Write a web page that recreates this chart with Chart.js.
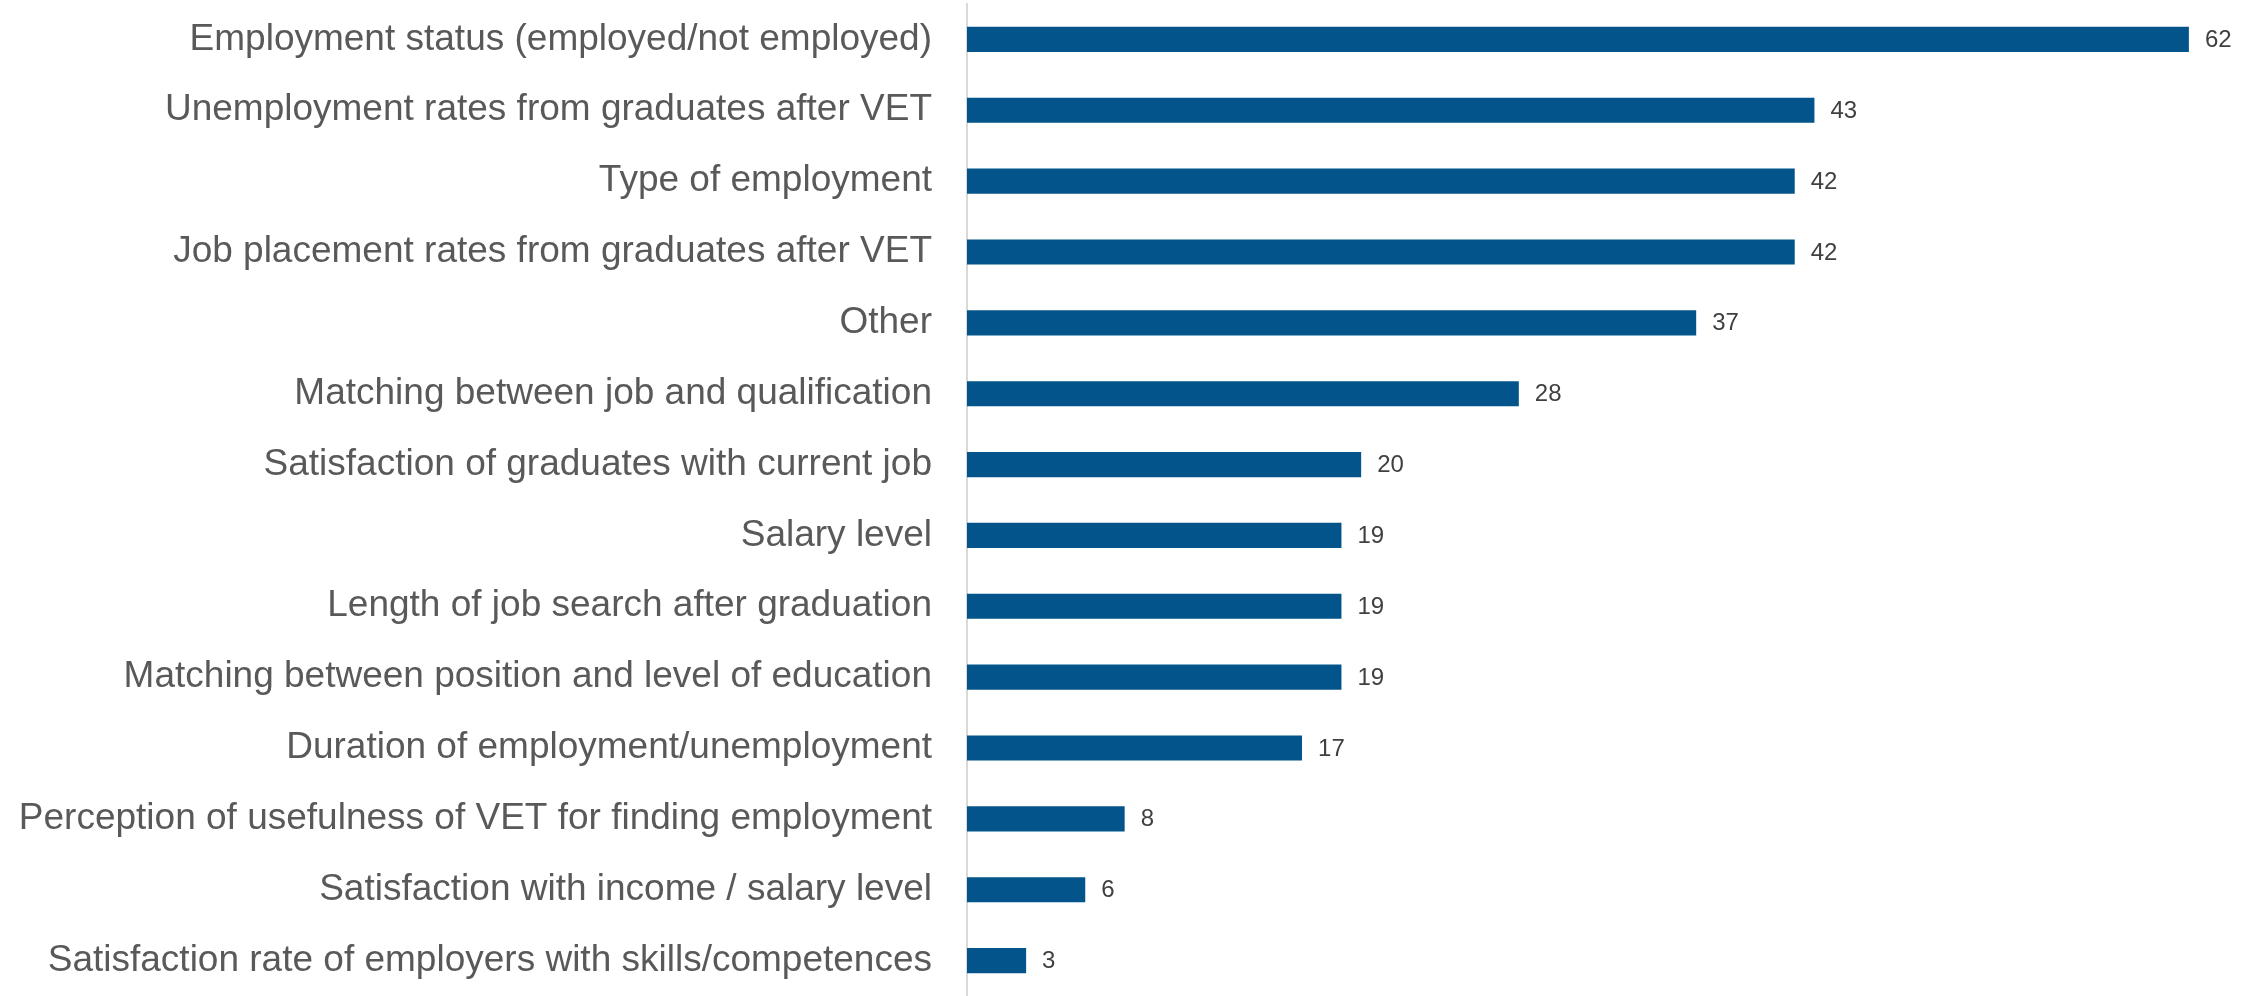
<!DOCTYPE html>
<html>
<head>
<meta charset="utf-8">
<script src="https://cdn.jsdelivr.net/npm/chart.js@4.4.1/dist/chart.umd.min.js"></script>
<style>
  html, body { margin: 0; padding: 0; background: #fff; overflow: hidden; }
  canvas { display: block; }
</style>
</head>
<body>
<canvas id="myChart" width="2259" height="996"></canvas>
<script>
const categories = [
  'Employment status (employed/not employed)',
  'Unemployment rates from graduates after VET',
  'Type of employment',
  'Job placement rates from graduates after VET',
  'Other',
  'Matching between job and qualification',
  'Satisfaction of graduates with current job',
  'Salary level',
  'Length of job search after graduation',
  'Matching between position and level of education',
  'Duration of employment/unemployment',
  'Perception of usefulness of VET for finding employment',
  'Satisfaction with income / salary level',
  'Satisfaction rate of employers with skills/competences'
];
const counts = [62, 43, 42, 42, 37, 28, 20, 19, 19, 19, 17, 8, 6, 3];

const barColor = '#02548A';

// draws the number just right of each bar
const valueLabels = {
  id: 'valueLabels',
  afterDatasetsDraw(chart) {
    const ctx = chart.ctx;
    const meta = chart.getDatasetMeta(0);
    ctx.save();
    ctx.font = '24px "Liberation Sans", Arial, sans-serif';
    ctx.fillStyle = '#404040';
    ctx.textAlign = 'left';
    ctx.textBaseline = 'middle';
    meta.data.forEach((bar, i) => {
      ctx.fillText(String(counts[i]), bar.x + 16, bar.y + 1);
    });
    ctx.restore();
  }
};

const config = {
  type: 'bar',
  data: {
    labels: categories,
    datasets: [{
      data: counts,
      backgroundColor: barColor,
      borderWidth: 0,
      barPercentage: 0.355,
      categoryPercentage: 1
    }]
  },
  options: {
    indexAxis: 'y',
    responsive: false,
    animation: false,
    layout: { padding: { top: 4, right: 11, bottom: 0, left: 0 } },
    plugins: {
      legend: { display: false },
      tooltip: { enabled: false }
    },
    scales: {
      x: {
        display: false,
        min: 0,
        max: 65
      },
      y: {
        afterFit: scale => {
          scale.width = 967;
          scale.paddingTop = 0;
          scale.paddingBottom = 0;
        },
        grid: { display: true, color: 'rgba(0,0,0,0)', drawTicks: false },
        border: { display: true, color: '#D9D9D9', width: 2 },
        ticks: {
          padding: 35,
          color: '#595959',
          font: { family: '"Liberation Sans", Arial, sans-serif', size: 37 }
        }
      }
    }
  },
  plugins: [valueLabels]
};

const myChart = new Chart(document.getElementById('myChart'), config);
</script>
</body>
</html>
